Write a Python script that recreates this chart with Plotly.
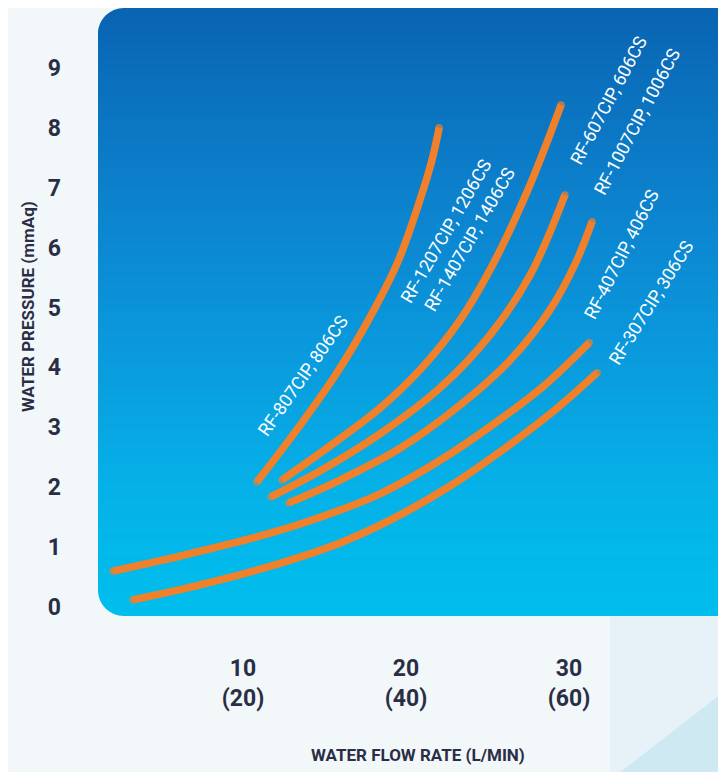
import plotly.graph_objects as go

# ---------------- data ----------------
flow_807 = [10.86, 13.19, 15.64, 17.79, 19.51, 20.86, 21.60, 22.03]
pres_807 = [2.09, 2.92, 3.86, 4.84, 5.77, 6.80, 7.47, 8.00]

flow_a = [12.39, 15.34, 18.40, 20.86, 23.31, 25.46, 27.61, 29.51]
pres_a = [2.12, 2.69, 3.32, 3.96, 4.79, 5.79, 7.05, 8.38]

flow_b = [11.72, 14.72, 18.40, 22.09, 25.15, 27.61, 29.75]
pres_b = [1.84, 2.27, 2.89, 3.66, 4.54, 5.54, 6.88]

flow_c = [12.82, 15.95, 19.63, 23.31, 26.38, 28.83, 30.43, 31.41]
pres_c = [1.74, 2.12, 2.65, 3.37, 4.12, 4.96, 5.76, 6.43]

flow_407 = [2.02, 6.13, 10.43, 14.11, 18.40, 22.09, 25.46, 28.53, 31.23]
pres_407 = [0.60, 0.85, 1.14, 1.44, 1.89, 2.45, 3.07, 3.71, 4.41]

flow_307 = [3.25, 7.36, 11.66, 15.95, 19.02, 22.70, 26.07, 29.14, 31.72]
pres_307 = [0.12, 0.37, 0.68, 1.07, 1.45, 2.02, 2.65, 3.29, 3.91]

x_tickvals = [10, 20, 30]
x_ticktext = ["10<br>(20)", "20<br>(40)", "30<br>(60)"]
y_tickvals = [0, 1, 2, 3, 4, 5, 6, 7, 8, 9]

label_807 = "RF-807CIP, 806CS"
label_1207 = "RF-1207CIP, 1206CS"
label_1407 = "RF-1407CIP, 1406CS"
label_607 = "RF-607CIP, 606CS"
label_1007 = "RF-1007CIP, 1006CS"
label_407 = "RF-407CIP, 406CS"
label_307 = "RF-307CIP, 306CS"

# ---------------- style / geometry ----------------
# the page body has an 8px margin, so the figure is drawn 8px in from top-left
OFF = 8
W, H = 726 - OFF, 772 - OFF
PL, PT = 98, 8            # plot-area top-left in page pixels
PW, PH = 726 - PL, 616 - PT
ML, MT = PL - OFF, PT - OFF
MR, MB = 0, H - MT - PH
FONT = "Roboto, Liberation Sans, sans-serif"
ORANGE = "#f0802a"
INK = "#2a2e45"
PAPER = "#f2f7fa"


def px(page_x):
    return (page_x - PL) / PW


def py(page_y):
    return (PT + PH - page_y) / PH


fig = go.Figure()

series = [(flow_807, pres_807), (flow_a, pres_a), (flow_b, pres_b),
          (flow_c, pres_c), (flow_407, pres_407), (flow_307, pres_307)]
for fx, fy in series:
    sizes = [7.5] + [0] * (len(fx) - 2) + [7.5]
    fig.add_trace(go.Scatter(
        x=fx, y=fy, mode="lines+markers",
        line=dict(color=ORANGE, width=7.5, shape="spline", smoothing=1.0),
        marker=dict(color=ORANGE, size=sizes, line=dict(width=0)),
        hoverinfo="skip", showlegend=False))

# ---------------- gradient panel (bands) ----------------
stops = [(0.0, (9, 100, 178)), (0.3, (12, 128, 204)), (0.55, (10, 152, 220)),
         (0.8, (5, 178, 232)), (1.0, (0, 190, 238))]


def col_at(t):
    for (t0, c0), (t1, c1) in zip(stops[:-1], stops[1:]):
        if t0 <= t <= t1:
            f = (t - t0) / (t1 - t0) if t1 > t0 else 0
            c = [round(a + (b - a) * f) for a, b in zip(c0, c1)]
            return "rgb(%d,%d,%d)" % tuple(c)
    return "rgb(%d,%d,%d)" % stops[-1][1]


shapes = []
# subtle background decorations below the panel
shapes.append(dict(type="rect", xref="paper", yref="paper", x0=px(610), x1=1.0,
                   y0=py(780), y1=0, fillcolor="#e6f2f8",
                   line=dict(width=0), layer="below"))
shapes.append(dict(type="path", xref="paper", yref="paper",
                   path="M %f,%f L 1,%f L 1,%f Z" % (px(610), py(780), py(690), py(780)),
                   fillcolor="#cfe9f3", line=dict(width=0), layer="below"))

NB = 152
for i in range(NB):
    t = (i + 0.5) / NB
    y1 = 1 - i / NB
    y0 = 1 - (i + 1) / NB - 0.002
    shapes.append(dict(type="rect", xref="paper", yref="paper",
                       x0=0, x1=1.0, y0=max(y0, 0), y1=y1,
                       fillcolor=col_at(t), line=dict(width=0), layer="below"))

# rounded left corners (masks)
R = 26
rx, ry = R / PW, R / PH
k = 0.5523
tl = ("M -0.01,1.01 L %f,1.01 L %f,1 C %f,1 0,%f 0,%f L -0.01,%f Z"
      % (rx, rx, rx - k * rx, 1 - ry + k * ry, 1 - ry, 1 - ry))
bl = ("M -0.01,-0.01 L %f,-0.01 L %f,0 C %f,0 0,%f 0,%f L -0.01,%f Z"
      % (rx, rx, rx - k * rx, ry - k * ry, ry, ry))
for p in (tl, bl):
    shapes.append(dict(type="path", xref="paper", yref="paper", path=p,
                       fillcolor=PAPER, line=dict(width=0), layer="below"))

# ---------------- annotations ----------------
ann = []
lab_font = dict(family=FONT, size=18, color="white")
for text, ax, ay, ang in [
        (label_807, 13.68, 3.86, -55),
        (label_1207, 22.45, 6.29, -60),
        (label_1407, 23.87, 6.14, -60),
        (label_607, 32.39, 8.46, -62),
        (label_1007, 34.17, 8.10, -62),
        (label_407, 33.19, 5.89, -63),
        (label_307, 35.03, 5.08, -58)]:
    ann.append(dict(x=ax, y=ay, xref="x", yref="y", text=text, showarrow=False,
                    textangle=ang, font=lab_font, xanchor="center", yanchor="middle"))

title_font = dict(family=FONT, size=17, color=INK, weight="bold")
ann.append(dict(x=px(28), y=py(307), xref="paper", yref="paper",
                text="WATER PRESSURE (mmAq)", showarrow=False, textangle=-90,
                font=title_font, xanchor="center", yanchor="middle"))
ann.append(dict(x=px(418), y=py(755), xref="paper", yref="paper",
                text="WATER FLOW RATE (L/MIN)", showarrow=False,
                font=title_font, xanchor="center", yanchor="middle"))

tick_font = dict(family=FONT, size=23, color=INK, weight="bold")

fig.update_layout(
    width=W, height=H, margin=dict(l=ML, r=MR, t=MT, b=MB, pad=0),
    paper_bgcolor=PAPER, plot_bgcolor="rgba(0,0,0,0)",
    shapes=shapes, annotations=ann, showlegend=False,
    xaxis=dict(range=[1.10, 39.63], tickvals=x_tickvals, ticktext=x_ticktext,
               showgrid=False, zeroline=False, showline=False, ticks="",
               tickfont=tick_font, ticklabelstandoff=36, fixedrange=True),
    yaxis=dict(range=[-0.15, 10.0], tickvals=y_tickvals,
               showgrid=False, zeroline=False, showline=False, ticks="",
               tickfont=tick_font, ticklabelstandoff=36, fixedrange=True),
)

fig.write_html("out.html")
